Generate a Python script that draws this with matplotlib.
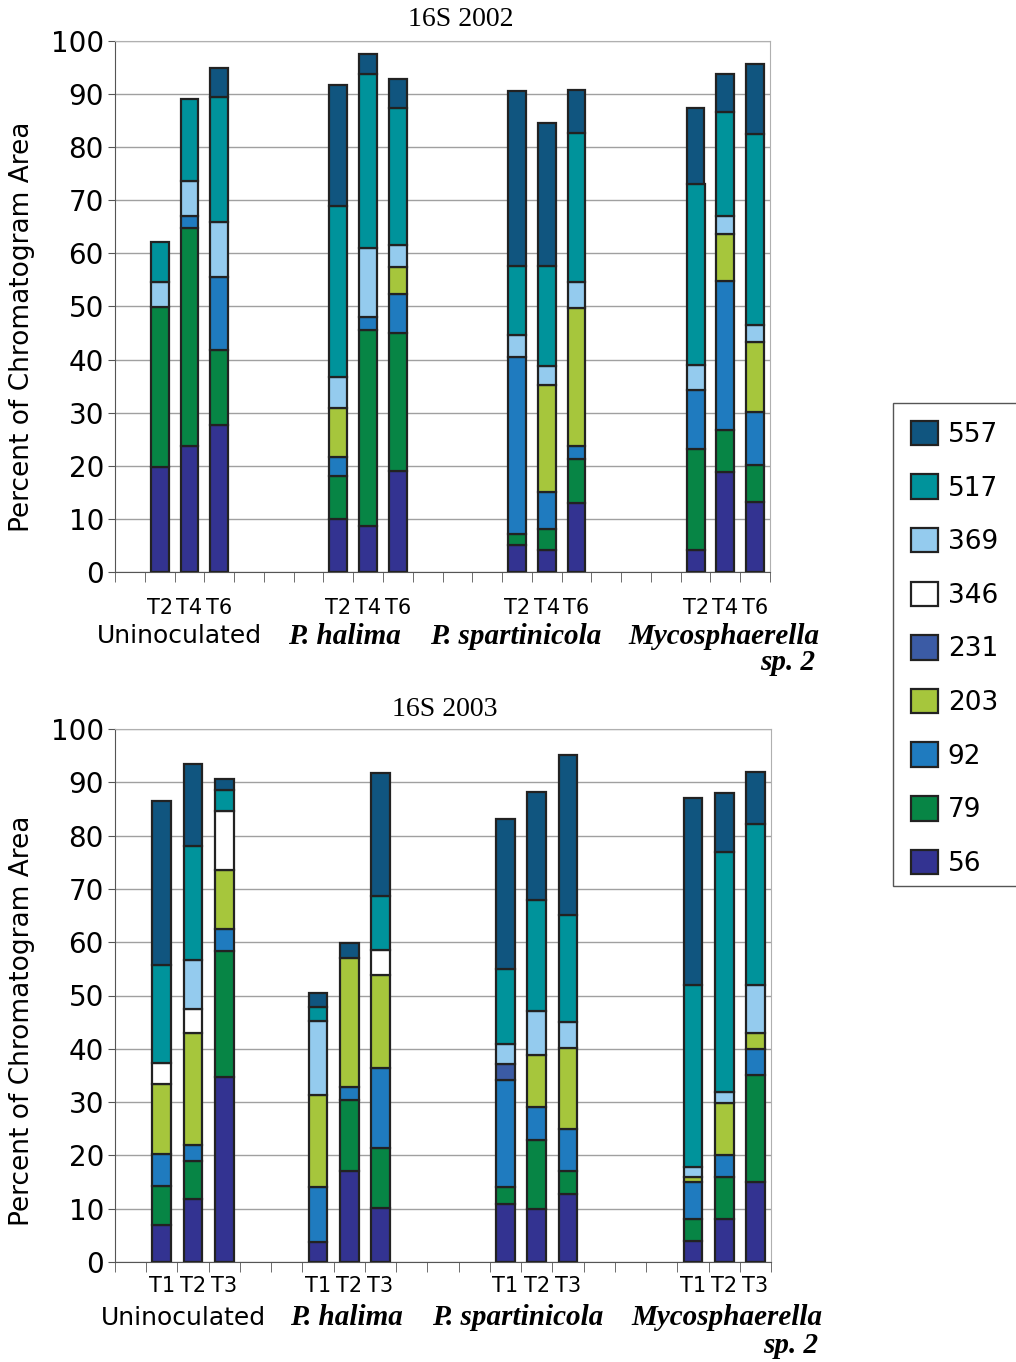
import numpy as np
import matplotlib
matplotlib.use('Agg')
import matplotlib.pyplot as plt
from matplotlib.patches import Patch, Rectangle

# fragment sizes (stack order bottom -> top)
series = ['56', '79', '92', '203', '231', '346', '369', '517', '557']
colors = ['#333391', '#078545', '#1f7bbf', '#a6c63c', '#3b5ba5', '#ffffff',
          '#94cbee', '#00939b', '#10557f']
groups = ['Uninoculated', 'P. halima', 'P. spartinicola', 'Mycosphaerella']

# 16S 2002, bars: T2 T4 T6 for each treatment
times_2002 = ['T2', 'T4', 'T6']
v2002_56  = [19.7, 23.7, 27.7,  9.9,  8.6, 19.0,  5.0,  4.1, 13.0,  4.2, 18.8, 13.2]
v2002_79  = [30.2, 41.1, 14.1,  8.1, 37.0, 26.0,  2.1,  4.0,  8.2, 19.0,  7.9,  6.9]
v2002_92  = [ 0.0,  2.3, 13.8,  3.7,  2.4,  7.4, 33.4,  6.9,  2.5, 11.0, 28.1, 10.1]
v2002_203 = [ 0.0,  0.0,  0.0,  9.2,  0.0,  5.0,  0.0, 20.2, 26.0,  0.0,  8.8, 13.1]
v2002_231 = [ 0.0,  0.0,  0.0,  0.0,  0.0,  0.0,  0.0,  0.0,  0.0,  0.0,  0.0,  0.0]
v2002_346 = [ 0.0,  0.0,  0.0,  0.0,  0.0,  0.0,  0.0,  0.0,  0.0,  0.0,  0.0,  0.0]
v2002_369 = [ 4.7,  6.5, 10.4,  5.9, 13.1,  4.1,  4.1,  3.6,  4.9,  4.7,  3.4,  3.2]
v2002_517 = [ 7.5, 15.5, 23.5, 32.2, 32.7, 25.9, 13.1, 18.9, 28.0, 34.1, 19.6, 35.9]
v2002_557 = [ 0.0,  0.0,  5.5, 22.8,  3.7,  5.4, 32.9, 26.9,  8.2, 14.3,  7.1, 13.3]

# 16S 2003, bars: T1 T2 T3 for each treatment
times_2003 = ['T1', 'T2', 'T3']
v2003_56  = [ 6.9, 11.8, 34.8,  3.8, 17.0, 10.1, 10.9,  9.9, 12.8,  4.0,  8.1, 15.0]
v2003_79  = [ 7.3,  7.1, 23.6,  0.0, 13.4, 11.2,  3.1, 13.0,  4.2,  4.1,  7.9, 20.0]
v2003_92  = [ 6.0,  3.0,  4.1, 10.3,  2.5, 15.1, 20.1,  6.2,  8.0,  6.9,  4.0,  5.0]
v2003_203 = [13.2, 21.1, 11.0, 17.3, 24.2, 17.5,  0.0,  9.8, 15.1,  0.9,  9.9,  3.0]
v2003_231 = [ 0.0,  0.0,  0.0,  0.0,  0.0,  0.0,  3.0,  0.0,  0.0,  0.0,  0.0,  0.0]
v2003_346 = [ 4.0,  4.5, 11.1,  0.0,  0.0,  4.7,  0.0,  0.0,  0.0,  0.0,  0.0,  0.0]
v2003_369 = [ 0.0,  9.2,  0.0, 13.9,  0.0,  0.0,  3.8,  8.1,  4.9,  1.9,  2.0,  9.0]
v2003_517 = [18.3, 21.4,  4.0,  2.6,  0.0, 10.1, 14.0, 21.0, 20.1, 34.1, 45.0, 30.1]
v2003_557 = [30.7, 15.3,  2.0,  2.6,  2.7, 23.1, 28.2, 20.1, 30.1, 35.1, 11.1,  9.9]

data_2002 = [v2002_56, v2002_79, v2002_92, v2002_203, v2002_231, v2002_346,
             v2002_369, v2002_517, v2002_557]
data_2003 = [v2003_56, v2003_79, v2003_92, v2003_203, v2003_231, v2003_346,
             v2003_369, v2003_517, v2003_557]

W, H = 1016, 1362
fig = plt.figure(figsize=(W / 100, H / 100), dpi=100)


def stacked(ax, data, times, group_starts, nslots, label_x, label_y, sp_y, tpad):
    pos = []
    for g in group_starts:
        pos += [g + k + 0.5 for k in range(3)]
    pos = np.array(pos)
    bottom = np.zeros(len(pos))
    for vals, c in zip(data, colors):
        vals = np.array(vals)
        m = vals > 0
        ax.bar(pos[m], vals[m], 0.6, bottom=bottom[m], color=c,
               edgecolor='#222222', linewidth=1.6, zorder=3)
        bottom += vals
    ax.set_xlim(0, nslots)
    ax.set_ylim(0, 100)
    ax.set_yticks(range(0, 101, 10))
    ax.tick_params(axis='y', labelsize=20, length=5, pad=3, color='#555555')
    ax.grid(axis='y', color='#a0a0a0', linewidth=1.0, zorder=0)
    ax.set_xticks(pos)
    ax.set_xticklabels(times * 4, fontsize=15)
    ax.tick_params(axis='x', which='major', length=0, pad=tpad)
    ax.set_xticks(np.arange(0, nslots + 1), minor=True)
    ax.tick_params(axis='x', which='minor', length=7, color='#555555')
    for s in ['top', 'right']:
        ax.spines[s].set_color('#b0b0b0')
    for s in ['left', 'bottom']:
        ax.spines[s].set_color('#555555')
    tr = ax.get_xaxis_transform()
    serif = dict(fontsize=21, family='Liberation Serif', style='italic',
                 weight='bold', transform=tr, va='center')
    ax.text(label_x[0], label_y, groups[0], transform=tr, ha='center',
            va='center', fontsize=18)
    for i in (1, 2):
        ax.text(label_x[i], label_y, groups[i], ha='center', **serif)
    ax.text(label_x[3], label_y, groups[3], ha='right', **serif)
    ax.text(label_x[3] - 0.15, sp_y, 'sp. 2', ha='right', **serif)


ax1 = fig.add_axes([115 / W, 1 - 572 / H, 655 / W, 531 / H])
stacked(ax1, data_2002, times_2002, [1, 7, 13, 19], 22,
        [2.18, 7.72, 13.46, 23.66], -0.121, -0.170, 19)

ax2 = fig.add_axes([115 / W, 1 - 1262 / H, 656 / W, 533 / H])
stacked(ax2, data_2003, times_2003, [1, 6, 12, 18], 21,
        [2.18, 7.4, 12.9, 22.66], -0.105, -0.156, 10)

fig.text(461 / W, 1 - 20 / H, '16S 2002', ha='center', va='center',
         fontsize=20, family='Liberation Serif')
fig.text(445 / W, 1 - 709 / H, '16S 2003', ha='center', va='center',
         fontsize=20, family='Liberation Serif')
fig.text(22 / W, 1 - 327 / H, 'Percent of Chromatogram Area', rotation=90,
         ha='center', va='center', fontsize=19)
fig.text(22 / W, 1 - 1021 / H, 'Percent of Chromatogram Area', rotation=90,
         ha='center', va='center', fontsize=19)

# legend box runs off the right edge in the original, so draw the frame by hand
fig.patches.append(Rectangle((893 / W, 1 - 886 / H), 140 / W, 483 / H,
                             transform=fig.transFigure, facecolor='white',
                             edgecolor='#555555', linewidth=1.0, zorder=0))
handles = [Patch(facecolor=c, edgecolor='#222222', linewidth=1.6)
           for c in colors[::-1]]
leg = fig.legend(handles, series[::-1], loc='upper left',
                 bbox_to_anchor=(893 / W, 1 - 403 / H), borderaxespad=0,
                 fontsize=19, handlelength=1.05, handleheight=1.05,
                 labelspacing=1.0, handletextpad=0.35, borderpad=0.67,
                 frameon=False)

fig.savefig('out.png', dpi=100)
